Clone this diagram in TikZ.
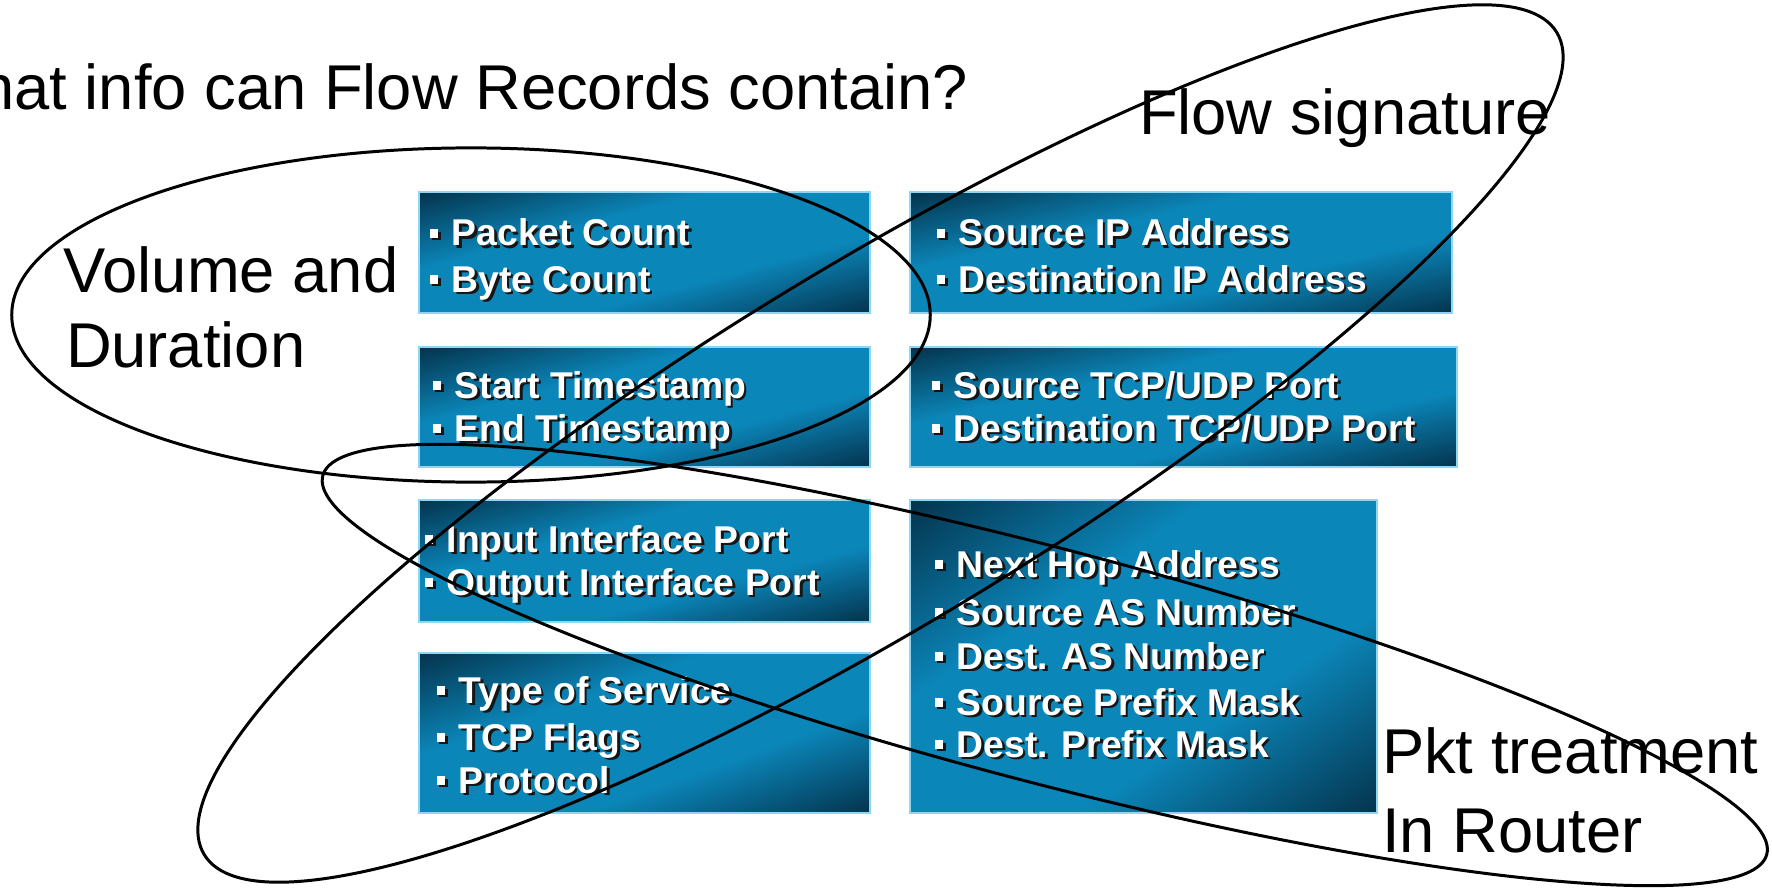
\documentclass[tikz,border=0pt]{standalone}
\usepackage{fontspec}
\setmainfont{Liberation Sans}

\definecolor{boxrim}{HTML}{8FD6F3}
\definecolor{txtshadow}{HTML}{161616}

% panel gradient: dark top-left and bottom-right corners, bright diagonal band
\pgfdeclarefunctionalshading{panelshade}{\pgfpointorigin}{\pgfpoint{100bp}{100bp}}{}{
  25 sub 50 div exch 25 sub 50 div
  exch sub 1 add 2 div
  0.5 sub abs 2 mul
  0.36 sub 0.64 div dup 0 lt {pop 0} if
  dup dup
  -0.027 mul 0.043 add
  exch -0.325 mul 0.525 add
  3 -1 roll -0.425 mul 0.725 add
}

% one bullet line with a drop shadow
\newcommand\bulletrow[1]{\leavevmode\rlap{\kern0.7pt\raisebox{-0.7pt}{\textcolor{txtshadow}{\rule[2.3pt]{2.3pt}{2.5pt}\hspace{3.9pt}#1}}}\rule[2.3pt]{2.3pt}{2.5pt}\hspace{3.9pt}#1}

\tikzset{
  infobox/.style={rectangle, anchor=north west, inner sep=0pt, outer sep=0pt,
    shading=panelshade, draw=boxrim, line width=0.6pt},
  rowtext/.style={anchor=base west, inner sep=0pt, outer sep=0pt, text=white,
    font=\bfseries\fontsize{10.6}{12}\selectfont},
  caption/.style={anchor=base west, inner sep=0pt, outer sep=0pt,
    font=\fontsize{18}{21}\selectfont},
  ring/.style={draw=black, line width=0.85pt}
}

\begin{document}
\begin{tikzpicture}[x=0.01cm, y=-0.01cm]
\useasboundingbox (0,0) rectangle (1772,888);

% ---- information panels ----
\node[infobox, minimum width=4.51cm, minimum height=1.21cm] (b1) at (419,192) {};
\node[infobox, minimum width=5.42cm, minimum height=1.21cm] (b2) at (910,192) {};
\node[infobox, minimum width=4.51cm, minimum height=1.20cm] (b3) at (419,347) {};
\node[infobox, minimum width=5.47cm, minimum height=1.20cm] (b4) at (910,347) {};
\node[infobox, minimum width=4.51cm, minimum height=1.22cm] (b5) at (419,500) {};
\node[infobox, minimum width=4.51cm, minimum height=1.60cm] (b6) at (419,653) {};
\node[infobox, minimum width=4.67cm, minimum height=3.13cm] (b7) at (910,500) {};

% ---- panel contents ----
\node[rowtext] (r1a) at (430,246) {\bulletrow{Packet Count}};
\node[rowtext] (r1b) at (430,292) {\bulletrow{Byte Count}};

\node[rowtext] (r2a) at (937,246) {\bulletrow{Source IP Address}};
\node[rowtext] (r2b) at (937,292) {\bulletrow{Destination IP Address}};

\node[rowtext] (r3a) at (433,398) {\bulletrow{Start Timestamp}};
\node[rowtext] (r3b) at (433,441) {\bulletrow{End Timestamp}};

\node[rowtext] (r4a) at (932,398) {\bulletrow{Source TCP/UDP Port}};
\node[rowtext] (r4b) at (932,441) {\bulletrow{Destination TCP/UDP Port}};

\node[rowtext] (r5a) at (425,552) {\bulletrow{Input Interface Port}};
\node[rowtext] (r5b) at (425,595) {\bulletrow{Output Interface Port}};

\node[rowtext] (r6a) at (437,703) {\bulletrow{Type of Service}};
\node[rowtext] (r6b) at (437,750) {\bulletrow{TCP Flags}};
\node[rowtext] (r6c) at (437,793) {\bulletrow{Protocol}};

\node[rowtext] (r7a) at (935,577) {\bulletrow{Next Hop Address}};
\node[rowtext] (r7b) at (935,625) {\bulletrow{Source AS Number}};
\node[rowtext] (r7c) at (935,669) {\bulletrow{Dest. AS Number}};
\node[rowtext] (r7d) at (935,715) {\bulletrow{Source Prefix Mask}};
\node[rowtext] (r7e) at (935,757) {\bulletrow{Dest. Prefix Mask}};

% ---- headings and group names ----
\node[caption, anchor=base east] (title) at (968,110) {What info can Flow Records contain?};
\node[caption] (vol1) at (64,292) {Volume and};
\node[caption] (vol2) at (66,367) {Duration};
\node[caption] (sig) at (1139,135) {Flow signature};
\node[caption] (pkt1) at (1382,773) {Pkt treatment};
\node[caption] (pkt2) at (1382,852) {In Router};

% ---- grouping rings ----
\coordinate (vc) at (471,315);
\coordinate (fc) at (880.5,443.5);
\coordinate (pc) at (1044.8,665);
\draw[ring] (vc) ellipse [x radius=4.59cm, y radius=1.67cm];
\draw[ring, rotate around={31.3:(fc)}] (fc) ellipse [x radius=7.91cm, y radius=1.786cm];
\draw[ring, rotate around={-14.7:(pc)}] (pc) ellipse [x radius=7.46cm, y radius=1.17cm];
\end{tikzpicture}
\end{document}
